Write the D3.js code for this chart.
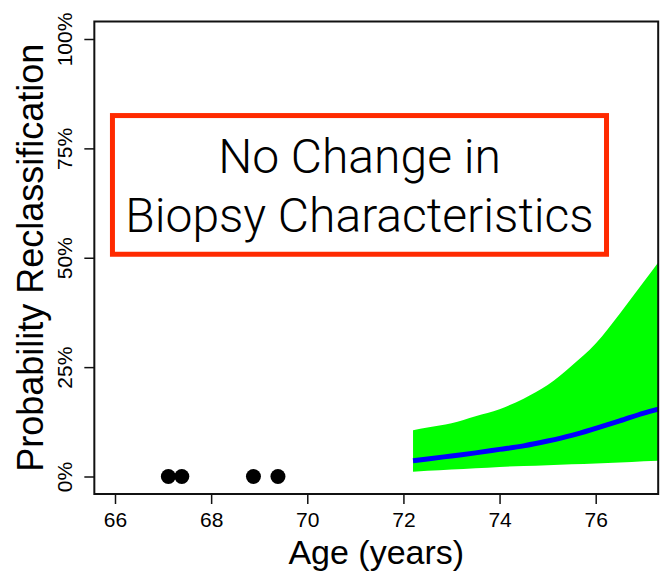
<!DOCTYPE html>
<html>
<head>
<meta charset="utf-8">
<script src="https://cdn.jsdelivr.net/npm/d3@7"></script>
<style>
  html, body { margin: 0; padding: 0; background: #fff; }
  svg { display: block; }
  .axis text { font-family: Helvetica, "Liberation Sans", Arial, sans-serif; }
</style>
</head>
<body>
<svg id="chart" width="666" height="580"></svg>
<script>
// Observed biopsy ages (no reclassification observed)
const biopsyAges = [67.11, 67.39, 68.88, 69.39];
const biopsyValues = [0, 0, 0, 0];

// Predicted reclassification probability with credible band
const predAges  = [72.2, 72.5, 73, 73.5, 74, 74.5, 75, 75.5, 76, 76.5, 77, 77.3];
const predMean  = [0.036, 0.040, 0.047, 0.054, 0.062, 0.070, 0.081, 0.094, 0.110, 0.127, 0.145, 0.154];
const predLower = [0.011, 0.013, 0.016, 0.019, 0.022, 0.024, 0.026, 0.028, 0.030, 0.032, 0.035, 0.036];
const predUpper = [0.106, 0.112, 0.122, 0.138, 0.154, 0.178, 0.209, 0.253, 0.304, 0.372, 0.445, 0.489];

const xTicks = [66, 68, 70, 72, 74, 76];
const yTicks = [0, 0.25, 0.5, 0.75, 1];
const yTickLabels = ["0%", "25%", "50%", "75%", "100%"];

const xTitle = "Age (years)";
const yTitle = "Probability Reclassification";
const noteLines = ["No Change in", "Biopsy Characteristics"];

const svg = d3.select("#chart");
const font = 'Helvetica, "Liberation Sans", Arial, sans-serif';
const lightFont = '"Helvetica Neue", Roboto, "Liberation Sans", sans-serif';

// Scales (the plot region extends 4% past the data range, R style)
const x = d3.scaleLinear().domain([66, 76]).range([115, 595.7]);
const y = d3.scaleLinear().domain([0, 1]).range([476.5, 39]);
const xMin = 65.57, xMax = 77.3, yMin = -0.04, yMax = 1.04;

const plot = {
  left: x(xMin), right: x(xMax), top: y(yMax), bottom: y(yMin)
};

svg.append("defs").append("clipPath").attr("id", "plotClip")
  .append("rect")
  .attr("x", plot.left).attr("y", plot.top)
  .attr("width", plot.right - plot.left).attr("height", plot.bottom - plot.top);

const g = svg.append("g").attr("clip-path", "url(#plotClip)");

const pred = predAges.map((a, i) => ({ age: a, mean: predMean[i], lo: predLower[i], hi: predUpper[i] }));

// Credible band
g.append("path")
  .datum(pred)
  .attr("fill", "#00ff00")
  .attr("d", d3.area().x(d => x(d.age)).y0(d => y(d.lo)).y1(d => y(d.hi)).curve(d3.curveMonotoneX));

// Mean prediction
g.append("path")
  .datum(pred)
  .attr("fill", "none")
  .attr("stroke", "#0000ff")
  .attr("stroke-width", 5)
  .attr("d", d3.line().x(d => x(d.age)).y(d => y(d.mean)).curve(d3.curveMonotoneX));

// Biopsy points
g.selectAll("circle.biopsy")
  .data(biopsyAges.map((a, i) => ({ age: a, v: biopsyValues[i] })))
  .join("circle")
  .attr("class", "biopsy")
  .attr("cx", d => x(d.age))
  .attr("cy", d => y(d.v))
  .attr("r", 7.5)
  .attr("fill", "#000");

// Plot frame
svg.append("rect")
  .attr("x", plot.left).attr("y", plot.top)
  .attr("width", plot.right - plot.left).attr("height", plot.bottom - plot.top)
  .attr("fill", "none").attr("stroke", "#111").attr("stroke-width", 2);

// X axis
const xAxis = d3.axisBottom(x).tickValues(xTicks).tickSize(10).tickPadding(8).tickFormat(d3.format("d"));
const gx = svg.append("g").attr("class", "axis")
  .attr("transform", `translate(0,${plot.bottom})`)
  .call(xAxis);
gx.select(".domain").remove();
gx.selectAll(".tick line").attr("stroke", "#111").attr("stroke-width", 1.5);
gx.selectAll(".tick text").attr("font-size", 21).attr("fill", "#000").attr("font-family", font);

// Y axis with rotated labels
const yAxis = d3.axisLeft(y).tickValues(yTicks).tickSize(10).tickFormat((d, i) => yTickLabels[i]);
const gy = svg.append("g").attr("class", "axis")
  .attr("transform", `translate(${plot.left},0)`)
  .call(yAxis);
gy.select(".domain").remove();
gy.selectAll(".tick line").attr("stroke", "#111").attr("stroke-width", 1.5);
gy.selectAll(".tick text")
  .attr("font-size", 21).attr("fill", "#000").attr("font-family", font)
  .attr("x", null).attr("dy", null)
  .attr("text-anchor", "middle")
  .attr("transform", "translate(-22.5,0) rotate(-90)");

// Axis titles
svg.append("text")
  .attr("x", (plot.left + plot.right) / 2).attr("y", 564)
  .attr("text-anchor", "middle")
  .attr("font-family", font).attr("font-size", 34).attr("fill", "#000")
  .text(xTitle);

svg.append("text")
  .attr("transform", `translate(43,${(plot.top + plot.bottom) / 2}) rotate(-90)`)
  .attr("text-anchor", "middle")
  .attr("font-family", font).attr("font-size", 36).attr("fill", "#000")
  .text(yTitle);

// Annotation box
const box = { x0: 65.947, x1: 76.225, y0: 0.825, y1: 0.508 };
svg.append("rect")
  .attr("x", x(box.x0)).attr("y", y(box.y0))
  .attr("width", x(box.x1) - x(box.x0)).attr("height", y(box.y1) - y(box.y0))
  .attr("fill", "#fff").attr("stroke", "#ff2a00").attr("stroke-width", 5);

const cx = (x(box.x0) + x(box.x1)) / 2;
[173, 232].forEach((baseline, i) => {
  svg.append("text")
    .attr("x", cx).attr("y", baseline)
    .attr("text-anchor", "middle")
    .attr("font-family", lightFont)
    .attr("font-weight", 300).attr("font-size", 48).attr("fill", "#000")
    .text(noteLines[i]);
});
</script>
</body>
</html>
